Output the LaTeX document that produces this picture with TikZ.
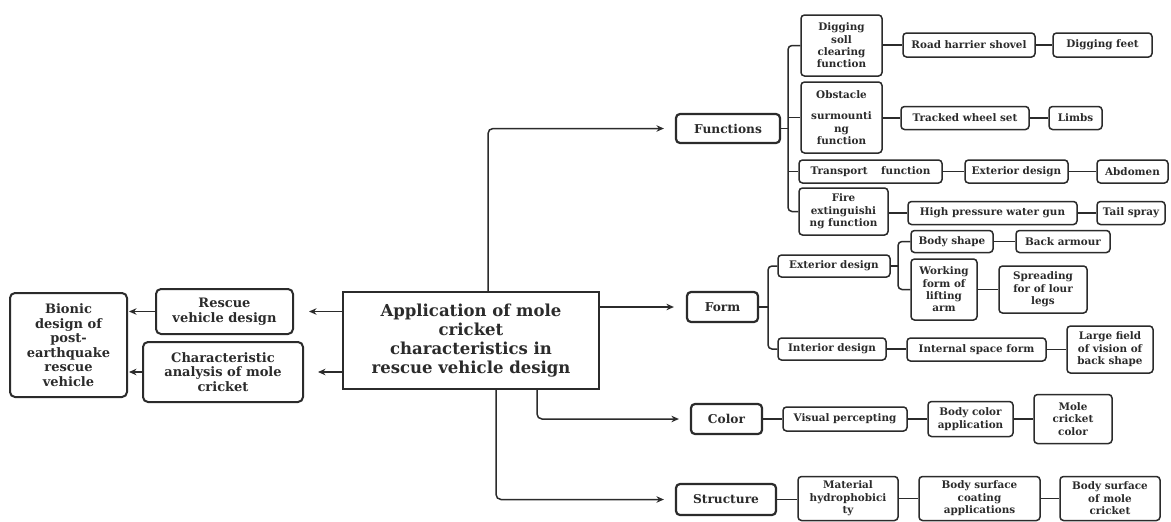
\documentclass[tikz,border=0pt]{standalone}
\usepackage{fontspec}
\setmainfont{DejaVu Serif}
\usetikzlibrary{arrows.meta}
\definecolor{ink}{HTML}{2b2b2b}
\begin{document}
\begin{tikzpicture}[x=1pt,y=-1pt,
 base/.style={draw=ink, text=ink, align=center, inner sep=1pt, font=\bfseries\fontsize{10.4}{12.4}\selectfont},
 sub/.style={base, rounded corners=3.5pt, line width=1.5pt},
 lvl/.style={base, rounded corners=4pt, line width=2.2pt, font=\bfseries\fontsize{12.2}{14}\selectfont},
 side/.style={base, rounded corners=5pt, line width=2pt, font=\bfseries\fontsize{13}{14.5}\selectfont},
 conn/.style={draw=ink, line width=1.5pt},
 arr/.style={conn, -{Stealth[length=7.5pt,width=6.5pt]}},
]
\fill[white] (0,0) rectangle (1171,522);
\useasboundingbox (0,0) rectangle (1171,522);

% left side
\node[side, minimum width=117pt, minimum height=104pt] (bionic) at (68.5,345) {Bionic\\design of\\post-\\earthquake\\rescue\\vehicle};
\node[side, minimum width=137pt, minimum height=45pt] (rescue) at (224.5,311.5) {Rescue\\vehicle design};
\node[side, minimum width=160pt, minimum height=60pt] (charac) at (223,372) {Characteristic\\analysis of mole\\cricket};
\node[base, line width=2pt, minimum width=256pt, minimum height=97pt, font=\bfseries\fontsize{16.5}{19}\selectfont] (main) at (471,340.5) {Application of mole\\cricket\\characteristics in\\rescue vehicle design};

\draw[arr, shorten >=15pt] (main.west |- rescue.east) -- (rescue.east);
\draw[arr, shorten >=14pt] (main.west |- charac.east) -- (charac.east);
\draw[arr, shorten >=1pt] (rescue.west) -- (rescue.west -| bionic.east);
\draw[arr, shorten >=1pt] (charac.west) -- (charac.west -| bionic.east);

% level 1
\node[lvl, minimum width=104pt, minimum height=29pt] (functions) at (728,128.5) {Functions};
\node[lvl, minimum width=71pt, minimum height=30pt] (form) at (722.5,307) {Form};
\node[lvl, minimum width=71pt, minimum height=30pt] (color) at (726.5,419) {Color};
\node[lvl, minimum width=100pt, minimum height=31pt] (structure) at (726,499.5) {Structure};

\draw[arr, rounded corners=5pt, shorten >=11pt] ([xshift=17pt]main.north) |- (functions.west);
\draw[arr, shorten >=12pt] (main.east |- form.west) -- (form.west);
\draw[arr, rounded corners=5pt, shorten >=11pt] ([xshift=66pt]main.south) |- (color.west);
\draw[arr, rounded corners=5pt, shorten >=11pt] ([xshift=25pt]main.south) |- (structure.west);

% functions subtree
\node[sub, minimum width=81pt, minimum height=61pt] (dig) at (841.5,45.5) {Digging\\soll\\clearing\\function};
\node[sub, minimum width=132pt, minimum height=24pt] (road) at (969,45) {Road harrier shovel};
\node[sub, minimum width=99pt, minimum height=24pt] (feet) at (1102.5,45) {Digging feet};
\node[sub, minimum width=81pt, minimum height=71pt] (obst) at (841.5,117.5) {Obstacle\\[9pt]surmounti\\ng\\function};
\node[sub, minimum width=128pt, minimum height=23pt] (tracked) at (965,118) {Tracked wheel set};
\node[sub, minimum width=53pt, minimum height=23pt] (limbs) at (1075.5,118) {Limbs};
\node[sub, minimum width=143pt, minimum height=23pt] (transport) at (870.5,171.5) {Transport\hspace{1.3em}function};
\node[sub, minimum width=103pt, minimum height=23pt] (extfun) at (1016.5,171.5) {Exterior design};
\node[sub, minimum width=71pt, minimum height=23pt] (abdomen) at (1132.5,171.5) {Abdomen};
\node[sub, minimum width=89pt, minimum height=47pt] (fire) at (843.5,211.5) {Fire\\extinguishi\\ng function};
\node[sub, minimum width=169pt, minimum height=23pt] (highp) at (992.5,213) {High pressure water gun};
\node[sub, minimum width=68pt, minimum height=23pt] (tail) at (1131,213) {Tail spray};

\coordinate (fbus) at (788,128.5);
\draw[conn, rounded corners=4pt] (dig.west) -| (fbus) |- (fire.west);
\draw[conn] (functions.east) -- (fbus);
\draw[conn] (fbus |- obst.west) -- (obst.west);
\draw[conn] (fbus |- transport.west) -- (transport.west);
\draw[conn] (dig.east |- road.west) -- (road.west);
\draw[conn] (road.east) -- (feet.west);
\draw[conn] (obst.east |- tracked.west) -- (tracked.west);
\draw[conn] (tracked.east) -- (limbs.west);
\draw[conn] (transport.east) -- (extfun.west);
\draw[conn] (extfun.east) -- (abdomen.west);
\draw[conn] (fire.east |- highp.west) -- (highp.west);
\draw[conn] (highp.east) -- (tail.west);

% form subtree
\node[sub, minimum width=112pt, minimum height=22pt] (extdes) at (834,266) {Exterior design};
\node[sub, minimum width=108pt, minimum height=22pt] (intdes) at (832,349) {Interior design};
\node[sub, minimum width=82pt, minimum height=22pt] (bodyshape) at (952,241.5) {Body shape};
\node[sub, minimum width=94pt, minimum height=22pt] (backarm) at (1063,241.5) {Back armour};
\node[sub, minimum width=66pt, minimum height=61pt] (working) at (944,289.5) {Working\\form of\\lifting\\arm};
\node[sub, minimum width=88pt, minimum height=47pt] (spread) at (1043,289.5) {Spreading\\for of lour\\legs};
\node[sub, minimum width=139pt, minimum height=23pt] (internal) at (976.5,349.5) {Internal space form};
\node[sub, minimum width=86pt, minimum height=47pt] (large) at (1110,349.5) {Large field\\of vision of\\back shape};

\coordinate (formbus) at (768,307);
\draw[conn, rounded corners=4pt] (extdes.west) -| (formbus) |- (intdes.west);
\draw[conn] (form.east) -- (formbus);
\coordinate (extbus) at (898,266);
\draw[conn, rounded corners=4pt] (bodyshape.west) -| (extbus) |- (working.west);
\draw[conn] (extdes.east) -- (extbus);
\draw[conn] (bodyshape.east) -- (backarm.west);
\draw[conn] (working.east) -- (spread.west);
\draw[conn] (intdes.east) -- (intdes.east -| internal.west);
\draw[conn] (internal.east) -- (internal.east -| large.west);

% color subtree
\node[sub, minimum width=124pt, minimum height=24pt] (visual) at (845,419) {Visual percepting};
\node[sub, minimum width=85pt, minimum height=35pt] (bodycolor) at (970.5,419) {Body color\\application};
\node[sub, minimum width=78pt, minimum height=49pt] (molecolor) at (1073,419) {Mole\\cricket\\color};
\draw[conn] (color.east) -- (visual.west);
\draw[conn] (visual.east) -- (bodycolor.west);
\draw[conn] (bodycolor.east) -- (molecolor.west);

% structure subtree
\node[sub, minimum width=100pt, minimum height=44pt] (material) at (848,498.5) {Material\\hydrophobici\\ty};
\node[sub, minimum width=121pt, minimum height=44pt] (coating) at (979.5,498.5) {Body surface\\coating\\applications};
\node[sub, minimum width=100pt, minimum height=44pt] (bsmole) at (1110,498.5) {Body surface\\of mole\\cricket};
\draw[conn] (structure.east) -- (structure.east -| material.west);
\draw[conn] (material.east) -- (coating.west);
\draw[conn] (coating.east) -- (bsmole.west);
\end{tikzpicture}
\end{document}
